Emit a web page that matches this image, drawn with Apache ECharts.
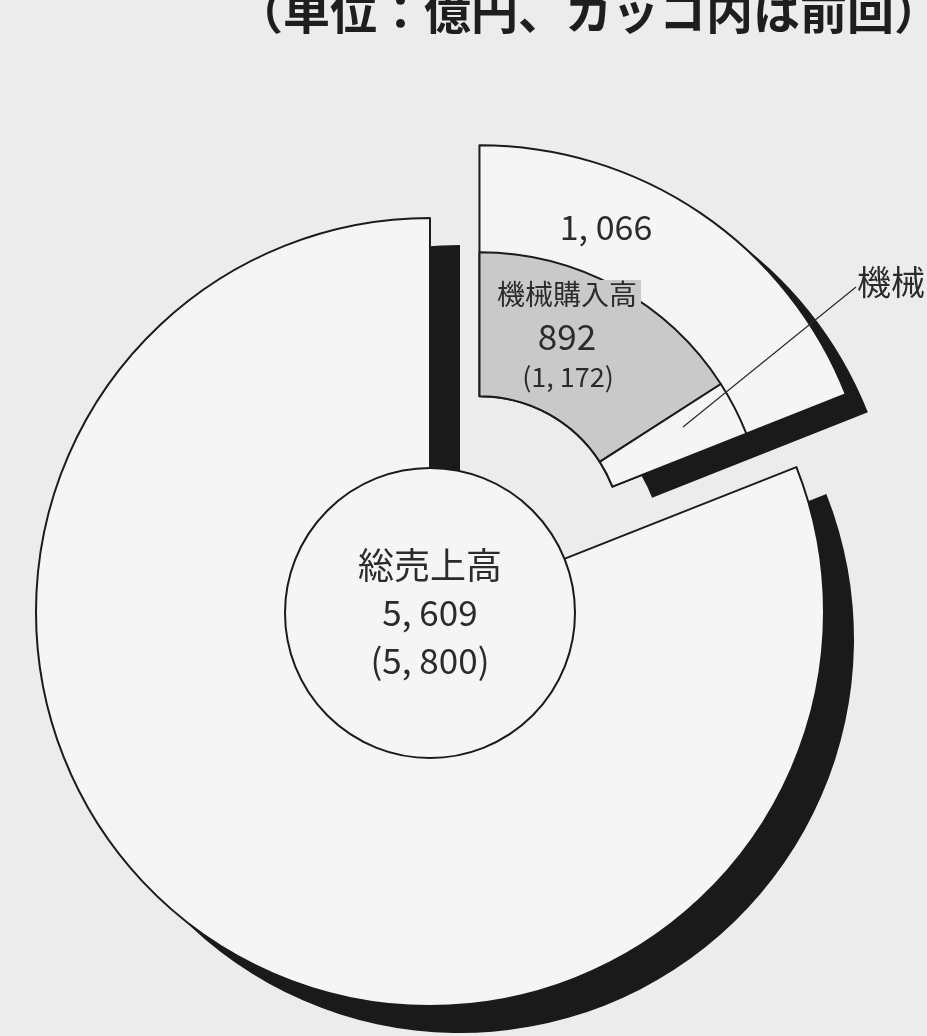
<!DOCTYPE html>
<html>
<head>
<meta charset="utf-8">
<title>総売上高と機械購入高</title>
<script src="https://cdn.jsdelivr.net/npm/echarts@6/dist/echarts.min.js"></script>
<style>
  html, body { margin: 0; padding: 0; background: #ececec; }
  #chart { width: 927px; height: 1036px; }
</style>
</head>
<body>
<div id="chart"></div>
<script>
// values in 億円 (prev = 前回)
const unitNote = '（単位：億円、カッコ内は前回）';
const totalNames = ['総売上高'];
const totalValues = [5609];
const totalPrevValues = [5800];

// outer ring: exploded 機械 slice, then the rest of sales
const ringNames = ['機械', 'その他'];
const ringValues = [1066, 5609 - 1066];

// inner band of the exploded slice
const subNames = ['機械購入高', '機械'];
const subValues = [892, 174];
const subPrevValues = [1172, null];

const fmt = v => v.toLocaleString('en-US').replace(/,/g, ', ');

const cx = 430, cy = 612;
const outerR = 394, innerR = 143, subR = 287, coreR = 145;
const explode = 88;
const startAngle = 90;

const total = ringValues.reduce((a, b) => a + b, 0);
const sliceAngle = ringValues[0] / total * 360;
const mid = (startAngle - sliceAngle / 2) * Math.PI / 180;
const ex = cx + explode * Math.cos(mid);
const ey = cy - explode * Math.sin(mid);

const ink = '#1b1b1b';
const paper = '#f5f5f5';
const hidden = { color: 'transparent', borderWidth: 0 };

const basePie = {
    type: 'pie',
    silent: true,
    animation: false,
    startAngle: startAngle,
    clockwise: true,
    label: { show: false },
    labelLine: { show: false },
    emphasis: { disabled: true }
};

// one ring slice shown, the other hidden
function ringSeries(name, center, radius, shown, style) {
    return {
        ...basePie,
        name: name,
        center: center,
        radius: radius,
        itemStyle: style,
        data: ringNames.map((n, i) => ({
            name: n,
            value: ringValues[i],
            itemStyle: i === shown ? undefined : hidden
        }))
    };
}

const shadowStyle = { color: '#1a1a1a', borderWidth: 0 };
const faceStyle = { color: paper, borderColor: ink, borderWidth: 2 };

const chart = echarts.init(document.getElementById('chart'));

chart.setOption({
    backgroundColor: '#ececec',
    series: [
        // drop shadows, drawn first so the faces sit on top
        ringSeries('restShadow', [cx + 30, cy + 27], [innerR, outerR], 1, shadowStyle),
        ringSeries('explodedShadow', [ex + 22, ey + 18], [innerR + 19, outerR], 0, shadowStyle),
        ringSeries('rest', [cx, cy], [innerR, outerR], 1, faceStyle),
        ringSeries('exploded', [ex, ey], [innerR, outerR], 0, faceStyle),
        {
            ...basePie,
            name: 'sub',
            center: [ex, ey],
            radius: [innerR, subR],
            itemStyle: { borderColor: ink, borderWidth: 2 },
            data: [
                { name: subNames[0], value: subValues[0], itemStyle: { color: '#c9c9c9' } },
                { name: subNames[1], value: subValues[1], itemStyle: { color: paper } },
                { name: 'rest', value: total - subValues[0] - subValues[1], itemStyle: hidden }
            ]
        },
        {
            ...basePie,
            name: 'total',
            center: [cx, cy + 1],
            radius: [0, coreR],
            itemStyle: { color: paper, borderColor: ink, borderWidth: 2 },
            label: {
                show: true,
                position: 'center',
                formatter: p => `{n|${p.name}}\n{v|${fmt(p.value)}}\n{v|(${fmt(totalPrevValues[0])})}`,
                rich: {
                    n: { fontSize: 36, lineHeight: 48, color: '#2b2b2b', fontFamily: 'Noto Sans CJK JP' },
                    v: { fontSize: 35, lineHeight: 48, color: '#2b2b2b', fontFamily: 'Noto Sans CJK JP' }
                }
            },
            data: [{ name: totalNames[0], value: totalValues[0] }]
        }
    ],
    graphic: [
        {
            type: 'text', x: 236, y: 11, z: 10,
            style: {
                text: unitNote, fill: '#1e1e1e', align: 'left', verticalAlign: 'middle',
                font: 'bold 47px "Noto Sans CJK JP"'
            }
        },
        {
            type: 'text', x: 606, y: 227, z: 10,
            style: {
                text: fmt(ringValues[0]), fill: '#2b2b2b', align: 'center', verticalAlign: 'middle',
                font: '34px "Noto Sans CJK JP"'
            }
        },
        {
            type: 'text', x: 567, y: 294, z: 10,
            style: {
                text: subNames[0], fill: '#2b2b2b', align: 'center', verticalAlign: 'middle',
                font: '28px "Noto Sans CJK JP"', backgroundColor: '#c9c9c9', padding: [0, 4]
            }
        },
        {
            type: 'text', x: 567, y: 337, z: 10,
            style: {
                text: fmt(subValues[0]), fill: '#2b2b2b', align: 'center', verticalAlign: 'middle',
                font: '35px "Noto Sans CJK JP"'
            }
        },
        {
            type: 'text', x: 568, y: 377, z: 10,
            style: {
                text: '(' + fmt(subPrevValues[0]) + ')', fill: '#2b2b2b', align: 'center', verticalAlign: 'middle',
                font: '27px "Noto Sans CJK JP"'
            }
        },
        {
            type: 'line', z: 10,
            shape: { x1: 856, y1: 287, x2: 683, y2: 427 },
            style: { stroke: '#2b2b2b', lineWidth: 1.2 }
        },
        {
            type: 'text', x: 857, y: 282, z: 10,
            style: {
                text: subNames[1], fill: '#2b2b2b', align: 'left', verticalAlign: 'middle',
                font: '34px "Noto Sans CJK JP"'
            }
        }
    ]
});
</script>
</body>
</html>
